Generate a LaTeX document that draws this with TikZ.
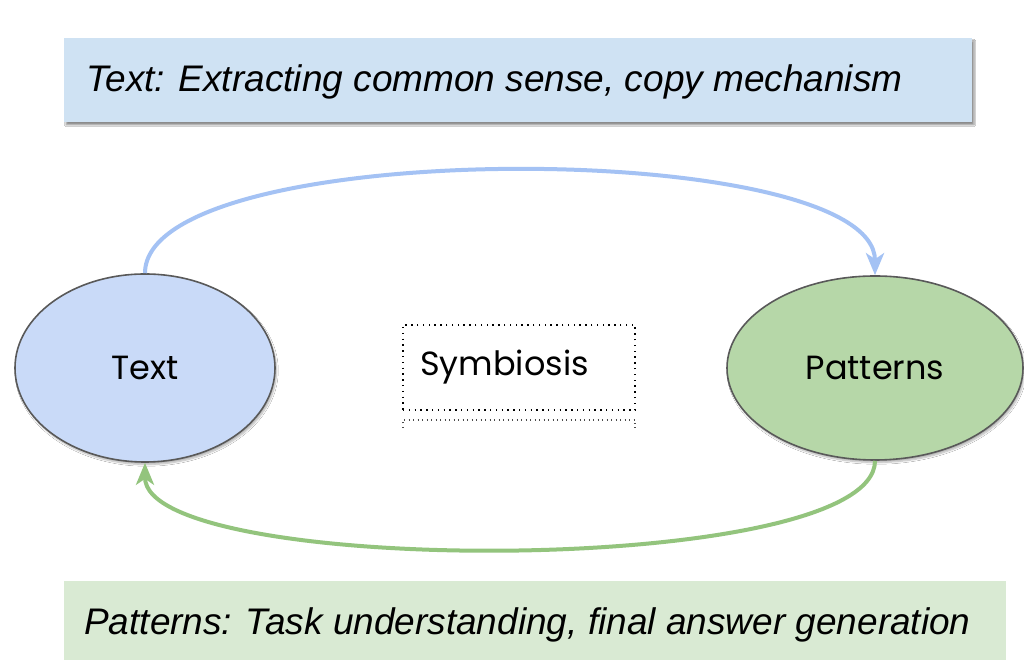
\documentclass[tikz,border=0pt]{standalone}
\usepackage{fontspec}
\newfontfamily\arialfont{Liberation Sans}
\newfontfamily\roundfont{Poppins}
\usetikzlibrary{arrows.meta,shapes.geometric,shadows.blur}
\definecolor{topfill}{HTML}{CFE2F3}
\definecolor{botfill}{HTML}{D9EAD3}
\definecolor{textfill}{HTML}{C9DAF8}
\definecolor{patfill}{HTML}{B6D7A8}
\definecolor{edgegray}{HTML}{595959}
\definecolor{bluearrow}{HTML}{A4C2F4}
\definecolor{greenarrow}{HTML}{93C47D}
\tikzset{
  banner/.style={anchor=south west, inner sep=0pt, outer sep=0pt},
  bannertext/.style={anchor=base west, inner sep=0pt, font=\arialfont\itshape\fontsize{37}{40}\selectfont},
  blob/.style={ellipse, draw=edgegray, line width=1.6pt, inner sep=0pt,
    font=\roundfont\fontsize{33.5}{36}\selectfont,
    blur shadow={shadow xshift=1.5pt, shadow yshift=-2.5pt, shadow blur steps=6, shadow opacity=30}},
  flow/.style={line width=4pt, -{Stealth[length=22pt,width=18pt,inset=6pt]}},
  dotbox/.style={draw=black, line width=1.4pt, dash pattern=on 1.4pt off 4.4pt, minimum width=232pt, minimum height=85pt, inner sep=0pt},
}
\begin{document}
\begin{tikzpicture}[x=1pt,y=1pt]
\useasboundingbox (0,0) rectangle (1024,660);
\fill[white] (0,0) rectangle (1024,660);
% top banner
\node[banner, fill=topfill, minimum width=908pt, minimum height=84pt,
  blur shadow={shadow xshift=2pt, shadow yshift=-3pt, shadow blur steps=6, shadow opacity=45}]
  (topbox) at (64,538) {};
\node[bannertext] (toptext) at (86,568) {Text: Extracting common sense, copy mechanism};
% bottom banner
\node[banner, fill=botfill, minimum width=942pt, minimum height=79pt] (botbox) at (64,0) {};
\node[bannertext] (bottext) at (84,25) {Patterns: Task understanding, final answer generation};
% ellipses
\node[blob, fill=textfill, minimum width=260pt, minimum height=188pt] (text) at (145,292) {Text};
\node[blob, fill=patfill, minimum width=296pt, minimum height=184pt] (pat) at (875,292) {Patterns};
% symbiosis
\node[dotbox] (sym) at (519,292.5) {};
\node[anchor=west, inner sep=0pt, font=\roundfont\fontsize{33.5}{36}\selectfont] (symtext) at (420,293) {Symbiosis};
\coordinate (s1) at (403,232);
\coordinate (s2) at (403,240);
\coordinate (s3) at (635,240);
\coordinate (s4) at (635,232);
\draw[black!70, line width=1.1pt, dash pattern=on 1.1pt off 3.4pt] (s1) -- (s2) -- (s3) -- (s4);
% arrows
\draw[flow, draw=bluearrow, color=bluearrow] (text.north) .. controls +(0,138) and +(0,138) .. (pat.north);
\draw[flow, draw=greenarrow, color=greenarrow] (pat.south) .. controls +(0,-117) and +(0,-115) .. (text.south);
\end{tikzpicture}
\end{document}
